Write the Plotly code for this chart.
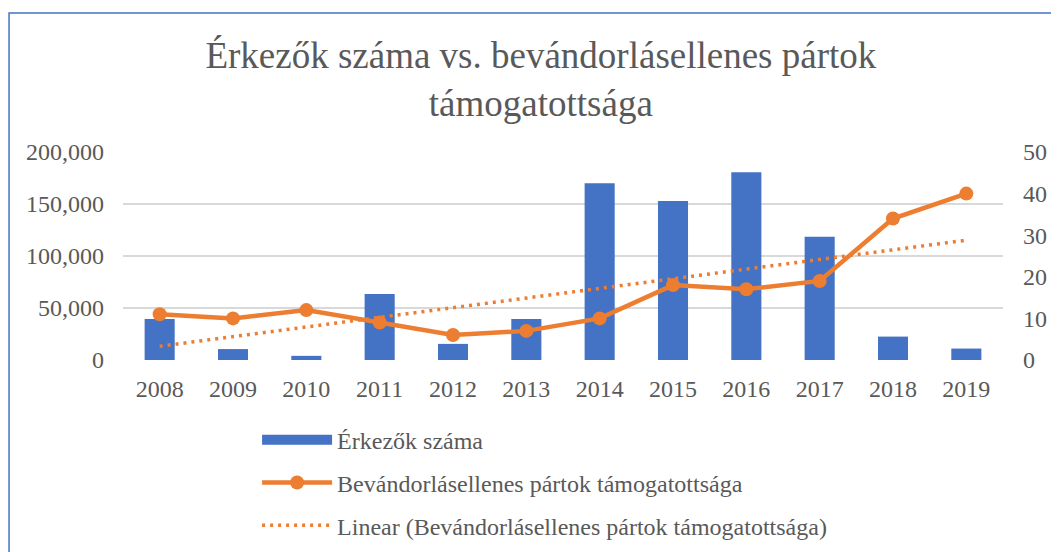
import plotly.graph_objects as go

years = ["2008", "2009", "2010", "2011", "2012", "2013", "2014", "2015", "2016", "2017", "2018", "2019"]
arrivals = [39500, 10500, 4000, 63500, 15500, 39500, 170000, 153000, 180500, 118500, 22500, 11000]
support = [11, 10, 12, 9, 6, 7, 10, 18, 17, 19, 34, 40]
trend_years = ["2008", "2019"]
trend_values = [3.3, 28.8]

left_ticks = [0, 50000, 100000, 150000, 200000]
left_labels = ["0", "50,000", "100,000", "150,000", "200,000"]
right_ticks = [0, 10, 20, 30, 40, 50]

FONT = "Liberation Serif, Times New Roman, serif"
GREY = "#595959"
BLUE = "#4472C4"
ORANGE = "#ED7D31"

fig = go.Figure()
fig.add_trace(go.Bar(
    x=years, y=arrivals, name="Érkezők száma",
    marker=dict(color=BLUE, line=dict(width=0)),
    showlegend=False, yaxis="y",
))
# legend entry for the bars (wide rectangle symbol)
fig.add_trace(go.Scatter(
    x=[None], y=[None], name="Érkezők száma",
    mode="lines", line=dict(color=BLUE, width=12),
    legendgroup="a", legendrank=1, yaxis="y",
))
fig.add_trace(go.Scatter(
    x=years, y=support, name="Bevándorlásellenes pártok támogatottsága",
    mode="lines+markers",
    line=dict(color=ORANGE, width=4.5),
    marker=dict(color=ORANGE, size=14),
    legendgroup="b", legendrank=2, yaxis="y2",
))
fig.add_trace(go.Scatter(
    x=trend_years, y=trend_values, name="Linear (Bevándorlásellenes pártok támogatottsága)",
    mode="lines",
    line=dict(color=ORANGE, width=3.5, dash="3px,5px"),
    legendgroup="c", legendrank=3, yaxis="y2",
))

fig.update_layout(
    width=1051, height=544,
    margin=dict(l=115, r=56, t=144, b=192, autoexpand=False),
    paper_bgcolor="white", plot_bgcolor="white",
    font=dict(family=FONT, color=GREY, size=24),
    title=dict(
        text="Érkezők száma vs. bevándorlásellenes pártok<br>támogatottsága",
        x=0.507, xanchor="center", xref="container",
        y=0.89, yanchor="middle", yref="container",
        font=dict(family=FONT, size=37, color=GREY),
    ),
    bargap=0.59,
    showlegend=True,
    legend=dict(
        orientation="v", xref="container", yref="container",
        x=0.237, xanchor="left", y=0.247, yanchor="top",
        font=dict(family=FONT, size=24, color=GREY),
        tracegroupgap=8.5, bgcolor="rgba(0,0,0,0)", itemwidth=70,
    ),
    xaxis=dict(
        type="category", range=[-0.5, 11.5], showgrid=False, showline=False, ticks="",
        tickfont=dict(family=FONT, size=24, color=GREY),
        ticklabelstandoff=12, zeroline=False,
    ),
    yaxis=dict(
        range=[0, 200000], tickvals=left_ticks, ticktext=left_labels,
        showgrid=True, gridcolor="#D9D9D9", gridwidth=1.5,
        zeroline=False, showline=False, ticks="",
        tickfont=dict(family=FONT, size=24, color=GREY),
        ticklabelstandoff=18,
    ),
    yaxis2=dict(
        range=[0, 50], tickvals=right_ticks, overlaying="y", side="right",
        showgrid=False, zeroline=False, showline=False, ticks="",
        tickfont=dict(family=FONT, size=24, color=GREY),
        ticklabelstandoff=19,
    ),
    shapes=[dict(
        type="rect", xref="paper", yref="paper",
        x0=-0.1295, x1=1.07, y0=-0.95, y1=1.668,
        line=dict(color=BLUE, width=1.5), fillcolor="rgba(0,0,0,0)",
        layer="below",
    )],
)

fig.write_html("out.html")
